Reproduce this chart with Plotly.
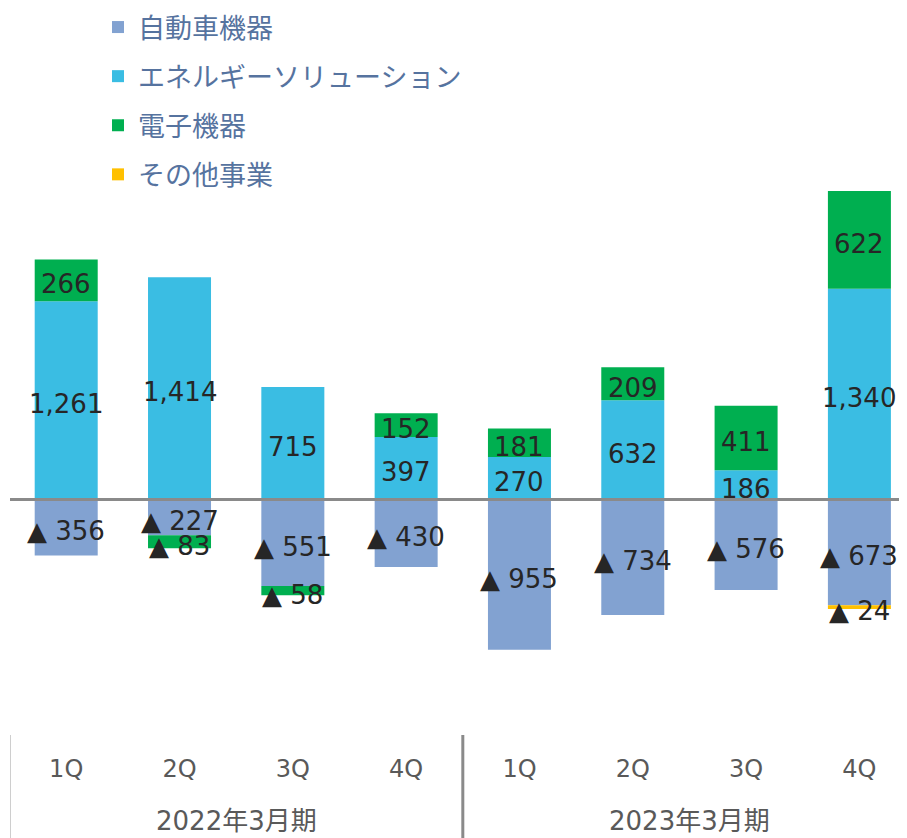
import plotly.graph_objects as go

# ---- data ----
fiscal_years = ["2022年3月期"] * 4 + ["2023年3月期"] * 4
quarters = ["1Q", "2Q", "3Q", "4Q"] * 2
year_labels = ["2022年3月期", "2023年3月期"]
series_names = ["自動車機器", "エネルギーソリューション", "電子機器", "その他事業"]
auto = [-356, -227, -551, -430, -955, -734, -576, -673]
energy = [1261, 1414, 715, 397, 270, 632, 186, 1340]
electronics = [266, -83, -58, 152, 181, 209, 411, 622]
other = [0, 0, 0, 0, 0, 0, 0, -24]

colors = ["#82A2D1", "#3ABDE3", "#00AF50", "#FFC000"]
series = [auto, energy, electronics, other]

cats = [f"{fy} {q}" for fy, q in zip(fiscal_years, quarters)]

# layout geometry (figure is offset 8px by page body margin)
W, H = 899, 830
ML, MB = 2, 95
PLOT_H = H - MB
PLOT_W = W - ML
Y_ZERO = 491.5          # px from top of figure
PX_PER_UNIT = 0.1572
y_top = Y_ZERO / PX_PER_UNIT
y_bot = -(PLOT_H - Y_ZERO) / PX_PER_UNIT

def paper_y(px):
    return (PLOT_H - px) / PLOT_H

fig = go.Figure()
for name, vals, col in zip(series_names, series, colors):
    fig.add_trace(go.Bar(
        x=cats, y=[v if v != 0 else None for v in vals], name=name,
        marker=dict(color=col, line=dict(width=0)),
        width=0.556, legendgroup=name, hoverinfo="skip",
    ))

def fmt(v):
    return f"▲ {abs(v):,}" if v < 0 else f"{v:,}"

for i in range(len(cats)):
    pos, neg = 0.0, 0.0
    for vals in series:
        v = vals[i]
        if v == 0:
            continue
        if v > 0:
            mid = pos + v / 2
            pos += v
        else:
            mid = neg + v / 2
            neg += v
        fig.add_annotation(
            x=cats[i], y=mid, xref="x", yref="y", text=fmt(v),
            showarrow=False, xanchor="center", yanchor="middle", yshift=-4,
            font=dict(family="DejaVu Sans", size=26, color="#262626"),
        )

# zero line
fig.add_shape(type="line", xref="paper", yref="y", x0=0, x1=1, y0=0, y1=0,
              line=dict(color="#8A8A8A", width=3), layer="above")
# group dividers
fig.add_shape(type="line", xref="x", yref="paper", x0=-0.5, x1=-0.5,
              y0=paper_y(727), y1=paper_y(H + 5),
              line=dict(color="#A6A6A6", width=2))
fig.add_shape(type="line", xref="x", yref="paper", x0=3.5, x1=3.5,
              y0=paper_y(727), y1=paper_y(H + 5),
              line=dict(color="#8A8A8A", width=3))

for k, yl in enumerate(year_labels):
    fig.add_annotation(x=1.5 + 4 * k, y=paper_y(813), xref="x", yref="paper",
                       text=yl, showarrow=False, xanchor="center", yanchor="middle",
                       font=dict(family="DejaVu Sans, Noto Sans CJK JP", size=26,
                                 color="#595959"))

fig.update_layout(
    width=W, height=H,
    margin=dict(l=ML, r=0, t=0, b=MB, autoexpand=False),
    barmode="relative",
    plot_bgcolor="white", paper_bgcolor="white",
    font=dict(family="DejaVu Sans, Noto Sans CJK JP", size=24, color="#595959"),
    legend=dict(
        x=(90 - ML) / PLOT_W, y=1 + 5 / PLOT_H, xanchor="left", yanchor="top",
        traceorder="grouped", tracegroupgap=11,
        font=dict(family="Noto Sans CJK JP", size=27, color="#56739F"),
        bgcolor="rgba(0,0,0,0)",
    ),
    xaxis=dict(
        type="category", range=[-0.496, 7.42],
        tickvals=cats, ticktext=quarters,
        showgrid=False, zeroline=False, showline=False, ticks="",
        tickfont=dict(family="DejaVu Sans", size=24, color="#595959"),
        ticklabelstandoff=9,
        automargin=False,
    ),
    yaxis=dict(
        range=[y_bot, y_top], visible=False, showgrid=False, zeroline=False,
    ),
)

fig.write_html("out.html")
